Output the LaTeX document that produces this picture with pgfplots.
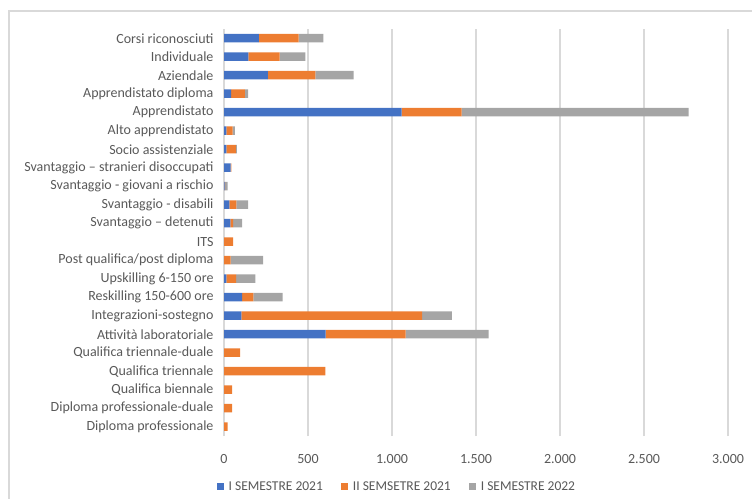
\documentclass[border=0pt]{standalone}
\usepackage{fontspec}
\setmainfont{Carlito}
\usepackage{pgfplots}
\usepackage{pgfplotstable}
\pgfplotsset{compat=1.18}

\definecolor{semA}{HTML}{4472C4}
\definecolor{semB}{HTML}{ED7D31}
\definecolor{semC}{HTML}{A5A5A5}
\definecolor{labelgray}{HTML}{595959}
\definecolor{gridgray}{HTML}{D9D9D9}

% pos: row from the bottom; a = I semestre 2021, b = II semestre 2021, c = I semestre 2022
\pgfplotstableread{
pos a    b    c
0   0    22   0
1   0    48   0
2   0    48   0
3   0    604  0
4   0    96   0
5   605  476  494
6   104  1075 177
7   108  67   174
8   14   58   115
9   0    40   193
10  0    54   0
11  38   16   54
12  32   42   69
13  3    4    15
14  40   4    0
15  14   56   6
16  14   38   12
17  1057 357  1351
18  42   82   19
19  261  283  227
20  145  186  153
21  207  237  148
}\corsi

\begin{document}
\begin{tikzpicture}
\useasboundingbox (0,0) rectangle (752bp,499bp);
\draw[color=gridgray, line width=1.2bp] (9bp,-5bp) -- (9bp,488bp) -- (760bp,488bp);
\begin{axis}[
  at={(224bp,63bp)}, anchor=south west,
  width=504bp, height=407bp, scale only axis,
  xbar stacked, bar width=8.5bp,
  xmin=0, xmax=3000, ymin=-0.5, ymax=21.5,
  xtick={0,500,...,3000},
  ytick={0,...,21},
  yticklabels={
    Diploma professionale,
    Diploma professionale-duale,
    Qualifica biennale,
    Qualifica triennale,
    Qualifica triennale-duale,
    Attività laboratoriale,
    Integrazioni-sostegno,
    Reskilling 150-600 ore,
    Upskilling 6-150 ore,
    Post qualifica/post diploma,
    ITS,
    Svantaggio – detenuti,
    Svantaggio - disabili,
    Svantaggio - giovani a rischio,
    Svantaggio – stranieri disoccupati,
    Socio assistenziale,
    Alto apprendistato,
    Apprendistato,
    Apprendistato diploma,
    Aziendale,
    Individuale,
    Corsi riconosciuti},
  xmajorgrids, grid style={color=gridgray, line width=1.2bp},
  axis line style={draw=none},
  major tick length=0pt,
  tick label style={font=\fontsize{14bp}{16bp}\selectfont, text=labelgray},
  yticklabel style={xshift=-7bp},
  xticklabel style={yshift=-15bp},
  /pgf/number format/.cd, 1000 sep={.}, assume math mode=true,
  /pgfplots/.cd,
  legend columns=3,
  legend style={draw=none, at={(0.343,-0.125)}, anchor=center,
    font=\fontsize{13.5bp}{15bp}\selectfont, text=labelgray,
    /tikz/every even column/.append style={column sep=16bp},
    /tikz/every odd column/.append style={column sep=3bp},
    inner sep=0pt},
  legend image code/.code={\fill[#1] (0bp,-3.5bp) rectangle (7bp,3.5bp);},
]
\addplot[fill=semA, draw=none] table[x=a, y=pos] {\corsi};
\addplot[fill=semB, draw=none] table[x=b, y=pos] {\corsi};
\addplot[fill=semC, draw=none] table[x=c, y=pos] {\corsi};
\legend{I SEMESTRE 2021, II SEMSETRE 2021, I SEMESTRE 2022}
\end{axis}
\end{tikzpicture}
\end{document}
